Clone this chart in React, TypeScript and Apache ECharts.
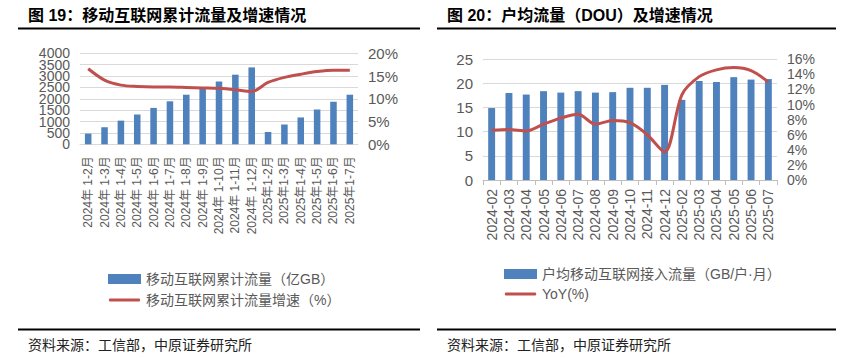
import React, { useEffect, useRef } from "react";
import * as echarts from "echarts";

const leftCategories = [
  "2024年 1-2月", "2024年 1-3月", "2024年 1-4月", "2024年 1-5月", "2024年 1-6月",
  "2024年 1-7月", "2024年 1-8月", "2024年 1-9月", "2024年 1-10月", "2024年 1-11月",
  "2024年 1-12月", "2025年1-2月", "2025年1-3月", "2025年1-4月", "2025年1-5月",
  "2025年1-6月", "2025年1-7月",
];
const leftTraffic = [470, 750, 1040, 1310, 1600, 1890, 2180, 2480, 2760, 3060, 3380, 540, 870, 1180, 1530, 1870, 2180];
const leftGrowth = [16.6, 14.1, 13.0, 12.7, 12.6, 12.6, 12.5, 12.4, 12.3, 12.0, 11.6, 13.6, 14.7, 15.4, 16.0, 16.3, 16.3];

const rightCategories = [
  "2024-02", "2024-03", "2024-04", "2024-05", "2024-06", "2024-07", "2024-08", "2024-09",
  "2024-10", "2024-11", "2024-12", "2025-02", "2025-03", "2025-04", "2025-05", "2025-06", "2025-07",
];
const rightDou = [14.9, 18.0, 17.7, 18.4, 18.1, 18.4, 18.1, 18.2, 19.1, 19.1, 19.7, 16.6, 20.5, 20.3, 21.3, 20.8, 20.9];
const rightYoy = [6.6, 6.7, 6.5, 7.4, 8.2, 8.7, 7.4, 7.9, 7.6, 6.0, 3.7, 11.3, 13.7, 14.6, 14.9, 14.5, 13.0];

const leftTitle = "图 19：移动互联网累计流量及增速情况";
const rightTitle = "图 20：户均流量（DOU）及增速情况";
const sourceText = "资料来源：工信部，中原证券研究所";
const leftBarName = "移动互联网累计流量（亿GB）";
const leftLineName = "移动互联网累计流量增速（%）";
const rightBarName = "户均移动互联网接入流量（GB/户·月）";
const rightLineName = "YoY(%)";

const FONT = '"Liberation Sans", "Noto Sans CJK SC", sans-serif';
const BLUE = "#4F81BD";
const RED = "#C0504D";
const GRAY = "#595959";
const GRID = "#D9D9D9";
const LINE_ICON = "path://M0,0 L0,0 M33,10 L33,10 M1.5,3.5 L31.5,3.5 Q33,5 31.5,6.5 L1.5,6.5 Q0,5 1.5,3.5 Z";

// left plot geometry
const L_TOP = 53.3;
const L_H = 91;
const L_STEP = L_H / 8;

export default function App() {
  const ref = useRef<HTMLDivElement>(null);
  useEffect(() => {
    if (!ref.current) return;
    const chart = echarts.init(ref.current, undefined, { renderer: "svg" });
    const axisLabelBase = { color: GRAY, fontFamily: FONT };
    const leftValLabel = {
      ...axisLabelBase,
      fontSize: 14,
      margin: 10,
      showMinLabel: true,
      showMaxLabel: true,
      formatter: (v: number) => String(v),
    };
    chart.setOption({
      animation: false,
      backgroundColor: "#fff",
      grid: [
        { left: 80, top: L_TOP, width: 278, height: L_H },
        { left: 483, top: 59.3, width: 294, height: 120.7 },
        { left: 80, top: L_TOP + L_STEP, width: 278, height: L_H - 2 * L_STEP },
      ],
      xAxis: [
        {
          type: "category",
          gridIndex: 0,
          data: leftCategories,
          axisLine: { show: true, lineStyle: { color: GRID } },
          axisTick: { show: false },
          axisLabel: { ...axisLabelBase, fontSize: 12, rotate: 90, interval: 0, margin: 12 },
        },
        {
          type: "category",
          gridIndex: 1,
          data: rightCategories,
          axisLine: { show: true, lineStyle: { color: "#BFBFBF" } },
          axisTick: { show: true, length: 5, lineStyle: { color: "#BFBFBF" } },
          axisLabel: { ...axisLabelBase, fontSize: 14, rotate: 90, interval: 0, margin: 9 },
        },
        {
          type: "category",
          gridIndex: 2,
          data: leftCategories,
          show: false,
        },
      ],
      yAxis: [
        {
          type: "value",
          gridIndex: 0,
          min: 0,
          max: 4000,
          interval: 1000,
          axisLine: { show: false },
          axisTick: { show: false },
          splitLine: { show: false },
          axisLabel: leftValLabel,
        },
        {
          type: "value",
          gridIndex: 0,
          min: 0,
          max: 20,
          interval: 5,
          position: "right",
          axisLine: { show: false },
          axisTick: { show: false },
          splitLine: { show: false },
          axisLabel: { ...axisLabelBase, fontSize: 15, margin: 10, showMinLabel: true, showMaxLabel: true, formatter: "{value}%" },
        },
        {
          type: "value",
          gridIndex: 1,
          min: 0,
          max: 25,
          interval: 5,
          axisLine: { show: false },
          axisTick: { show: false },
          splitLine: { lineStyle: { color: GRID } },
          axisLabel: { ...axisLabelBase, fontSize: 15, margin: 10, showMinLabel: true, showMaxLabel: true },
        },
        {
          type: "value",
          gridIndex: 1,
          min: 0,
          max: 16,
          interval: 2,
          position: "right",
          axisLine: { show: false },
          axisTick: { show: false },
          splitLine: { show: false },
          axisLabel: {
            ...axisLabelBase,
            fontSize: 14,
            margin: 10,
            showMinLabel: true,
            showMaxLabel: true,
            formatter: "{value}%",
          },
        },
        {
          type: "value",
          gridIndex: 2,
          min: 500,
          max: 3500,
          interval: 1000,
          axisLine: { show: false },
          axisTick: { show: false },
          splitLine: { show: false },
          axisLabel: leftValLabel,
        },
        {
          // gridlines of the left plot every 500
          type: "value",
          gridIndex: 0,
          min: 0,
          max: 4000,
          interval: 500,
          position: "left",
          axisLine: { show: false },
          axisTick: { show: false },
          axisLabel: { show: false },
          splitLine: { lineStyle: { color: GRID } },
        },
      ],
      legend: [
        {
          orient: "vertical",
          left: 103,
          top: 267,
          itemWidth: 33,
          itemHeight: 10,
          itemGap: 7,
          data: [
            { name: leftBarName, icon: "rect" },
            { name: leftLineName, icon: LINE_ICON },
          ],
          textStyle: { color: GRAY, fontSize: 14, fontFamily: FONT },
        },
        {
          orient: "vertical",
          left: 499,
          top: 262,
          itemWidth: 33,
          itemHeight: 10,
          itemGap: 6,
          data: [
            { name: rightBarName, icon: "rect" },
            { name: rightLineName, icon: LINE_ICON },
          ],
          textStyle: { color: GRAY, fontSize: 14, fontFamily: FONT },
        },
      ],
      series: [
        {
          name: leftBarName,
          type: "bar",
          xAxisIndex: 0,
          yAxisIndex: 0,
          data: leftTraffic,
          barWidth: "40%",
          itemStyle: { color: BLUE },
        },
        {
          name: leftLineName,
          type: "line",
          xAxisIndex: 0,
          yAxisIndex: 1,
          data: leftGrowth,
          smooth: 0.3,
          symbol: "none",
          lineStyle: { color: RED, width: 3 },
          itemStyle: { color: RED },
        },
        {
          name: rightBarName,
          type: "bar",
          xAxisIndex: 1,
          yAxisIndex: 2,
          data: rightDou,
          barWidth: "40%",
          itemStyle: { color: BLUE },
        },
        {
          name: rightLineName,
          type: "line",
          xAxisIndex: 1,
          yAxisIndex: 3,
          data: rightYoy,
          smooth: 0.3,
          symbol: "none",
          lineStyle: { color: RED, width: 3 },
          itemStyle: { color: RED },
        },
      ],
      graphic: [
        {
          type: "text",
          style: { text: leftTitle, x: 28, y: 15, fontSize: 16, fontWeight: "bold", fontFamily: FONT, fill: "#000", verticalAlign: "middle" },
        },
        {
          type: "text",
          style: { text: rightTitle, x: 447, y: 15, fontSize: 16, fontWeight: "bold", fontFamily: FONT, fill: "#000", verticalAlign: "middle" },
        },
        { type: "line", shape: { x1: 18, y1: 28.5, x2: 420, y2: 28.5 }, style: { stroke: "#000", lineWidth: 2 } },
        { type: "line", shape: { x1: 437, y1: 28.5, x2: 836, y2: 28.5 }, style: { stroke: "#000", lineWidth: 2 } },
        { type: "line", shape: { x1: 18, y1: 329.5, x2: 420, y2: 329.5 }, style: { stroke: "#000", lineWidth: 2 } },
        { type: "line", shape: { x1: 437, y1: 329.5, x2: 836, y2: 329.5 }, style: { stroke: "#000", lineWidth: 2 } },
        {
          type: "text",
          style: { text: sourceText, x: 28, y: 345, fontSize: 14, fontFamily: FONT, fill: "#222", verticalAlign: "middle" },
        },
        {
          type: "text",
          style: { text: sourceText, x: 447, y: 345, fontSize: 14, fontFamily: FONT, fill: "#222", verticalAlign: "middle" },
        },
      ],
    });
    return () => chart.dispose();
  }, []);
  return (
    <div
      ref={ref}
      style={{ position: "fixed", left: 0, top: 0, width: 847, height: 358, background: "#fff" }}
    />
  );
}
